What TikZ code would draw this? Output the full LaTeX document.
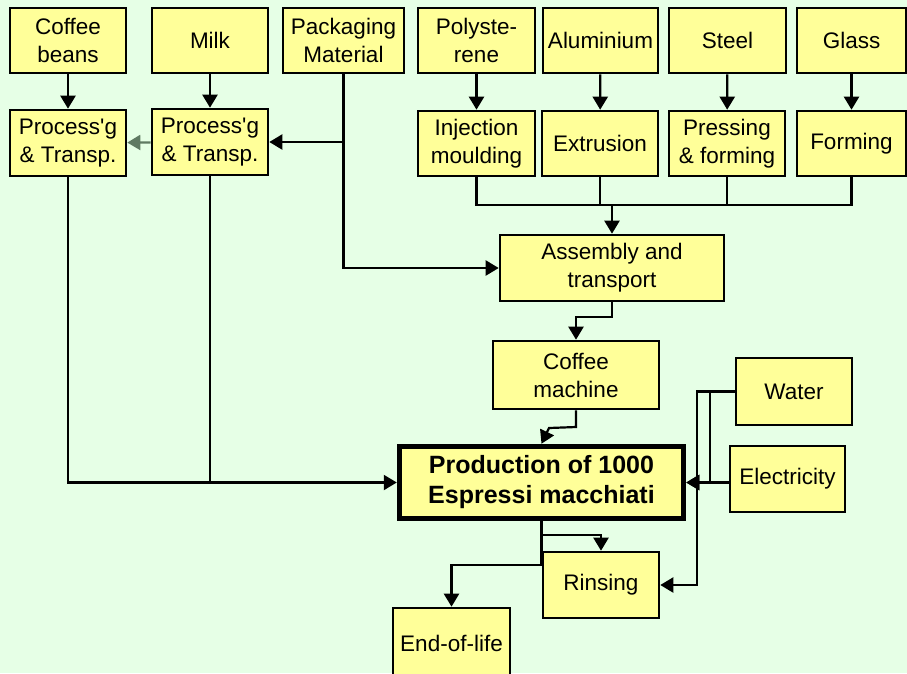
\documentclass[tikz,border=0pt]{standalone}
\usepackage{fontspec}
\setmainfont{Liberation Sans}
\usetikzlibrary{arrows.meta}
\definecolor{bggreen}{HTML}{E6FFE6}
\definecolor{boxyellow}{HTML}{FFFF99}
\definecolor{greyarrow}{HTML}{5F7A62}
\begin{document}
\begin{tikzpicture}[x=1pt,y=-1pt,>={Triangle[length=13pt,width=15pt]},
  every path/.style={line width=2.2pt},
  main node/.style={draw,fill=boxyellow,line width=2.6pt,align=center,inner sep=0pt,
    font=\fontsize{22.5}{28}\selectfont},
  big node/.style={main node,line width=5.5pt,font=\fontsize{25}{30}\selectfont\bfseries}]

  \fill[bggreen] (0,0) rectangle (907,673);
  \useasboundingbox (0,0) rectangle (907,673);

  \node[main node,minimum width=116pt,minimum height=65pt] (beans) at (68,40.5) {Coffee\\beans};
  \node[main node,minimum width=116pt,minimum height=65pt] (milk) at (210,40.5) {Milk};
  \node[main node,minimum width=121pt,minimum height=65pt] (pack) at (343.5,40.5) {Packaging\\Material};
  \node[main node,minimum width=117pt,minimum height=65pt] (poly) at (476.5,40.5) {Polyste-\\rene};
  \node[main node,minimum width=115pt,minimum height=65pt] (alu) at (600.5,40.5) {Aluminium};
  \node[main node,minimum width=117pt,minimum height=65pt] (steel) at (727.5,40.5) {Steel};
  \node[main node,minimum width=109pt,minimum height=65pt] (glass) at (851.5,40.5) {Glass};

  \node[main node,minimum width=116pt,minimum height=66pt] (proc1) at (68,143) {Process\textquotesingle g\\\& Transp.};
  \node[main node,minimum width=116pt,minimum height=66pt] (proc2) at (210,142) {Process\textquotesingle g\\\& Transp.};
  \node[main node,minimum width=117pt,minimum height=65pt] (inj) at (476.5,143.5) {Injection\\moulding};
  \node[main node,minimum width=116pt,minimum height=65pt] (ext) at (600,143.5) {Extrusion};
  \node[main node,minimum width=116pt,minimum height=65pt] (press) at (727,143.5) {Pressing\\\& forming};
  \node[main node,minimum width=109pt,minimum height=65pt] (form) at (851.5,143.5) {Forming};

  \node[main node,minimum width=224pt,minimum height=66pt] (asm) at (612,268) {Assembly and\\transport};
  \node[main node,minimum width=166pt,minimum height=68pt] (cm) at (576,375) {Coffee\\machine};
  \node[big node,minimum width=284pt,minimum height=72pt] (prod) at (541.5,482.5) {Production of 1000\\Espressi macchiati};
  \node[main node,minimum width=116pt,minimum height=67pt] (water) at (794,391.5) {Water};
  \node[main node,minimum width=115pt,minimum height=66pt] (elec) at (787.5,479) {Electricity};
  \node[main node,minimum width=116pt,minimum height=66pt] (rinse) at (601,585) {Rinsing};
  \node[main node,minimum width=117pt,minimum height=70pt] (eol) at (451.5,643) {End-of-life};

  \coordinate (bus) at (612,205);
  \coordinate (j1) at (612,317);
  \coordinate (j2) at (576,427);

  \draw[->] (beans) -- (proc1);
  \draw[->] (milk) -- (proc2);
  \draw[->] (poly) -- (inj);
  \draw[->] (alu) -- (ext);
  \draw[->] (steel) -- (press);
  \draw[->] (glass) -- (form);

  \draw[->] (pack) |- (asm);
  \draw[->] (pack.south |- proc2) -- (proc2);
  \draw[->,greyarrow] (proc2) -- (proc1);

  \draw (inj) |- (bus) -| (form);
  \draw (ext) -- (ext |- bus);
  \draw (press) -- (press |- bus);
  \draw[->] (bus) -- (asm);

  \draw[->] (asm) -- (j1) -| (cm);
  \draw[->] (cm) -- (j2) -- ++(-27,1) -- (prod.north);

  \draw[->] (proc1) |- (prod);
  \draw (proc2) -- (proc2 |- prod);

  \draw[->] (water.west) -- ++(-25,0) |- (prod);
  \draw[->] (water.west) -- ++(-38,0) |- (rinse);
  \draw[->] (elec.west |- prod) -- (prod);

  \draw[->] (prod.south) -- ++(0,14) -| (rinse);
  \draw[->] (prod.south) -- ++(0,44) -| (eol);

\end{tikzpicture}
\end{document}
